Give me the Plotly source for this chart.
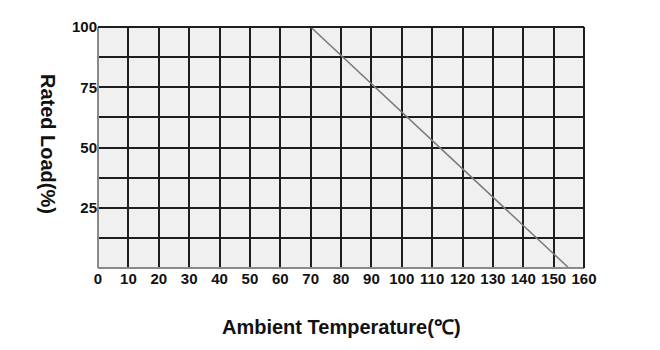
import plotly.graph_objects as go

temp_c = [70, 155]
rated_load_pct = [100, 0]
x_ticks = list(range(0, 161, 10))
y_ticks = [25, 50, 75, 100]

fig = go.Figure()
fig.add_trace(go.Scatter(x=temp_c, y=rated_load_pct, mode="lines",
                         line=dict(color="#7a7a7a", width=1.5),
                         showlegend=False, cliponaxis=True))

fnt = "Liberation Sans, Arial, sans-serif"
tickfont = dict(size=15, color="#111", family=fnt, weight="bold")
fig.update_layout(
    width=660, height=350,
    margin=dict(l=98, r=76, t=27, b=82),
    paper_bgcolor="white", plot_bgcolor="#f0f0f0",
    font=dict(family=fnt, color="#111", size=15),
    xaxis=dict(range=[0, 160], tickvals=x_ticks, ticktext=[str(v) for v in x_ticks],
               showgrid=True, gridcolor="#1e1e1e", gridwidth=2,
               zeroline=False, showline=False, ticks="", ticklen=0,
               tickfont=tickfont),
    yaxis=dict(range=[0, 100], tickvals=y_ticks, ticktext=[str(v) for v in y_ticks],
               showgrid=True, gridcolor="#1e1e1e", gridwidth=2,
               minor=dict(tick0=0, dtick=12.5, showgrid=True, gridcolor="#1e1e1e", gridwidth=2),
               zeroline=False, showline=False, ticks="", ticklen=0,
               tickfont=tickfont),
    shapes=[
        dict(type="line", xref="paper", yref="paper", x0=0, x1=0, y0=0, y1=1,
             line=dict(color="#8a8a8a", width=2)),
        dict(type="line", xref="paper", yref="paper", x0=0, x1=1, y0=0, y1=0,
             line=dict(color="#8a8a8a", width=2)),
        dict(type="line", xref="paper", yref="paper", x0=0, x1=1, y0=1, y1=1,
             line=dict(color="#1e1e1e", width=2)),
        dict(type="line", xref="paper", yref="paper", x0=1, x1=1, y0=0, y1=1,
             line=dict(color="#1e1e1e", width=2)),
    ],
    annotations=[
        dict(text="Ambient Temperature(℃)", xref="paper", yref="paper",
             x=0.5, y=-0.245, xanchor="center", yanchor="middle", showarrow=False,
             font=dict(size=20, color="#111", family=fnt, weight="bold")),
        dict(text="Rated Load(%)", xref="paper", yref="paper",
             x=-0.103, y=0.515, xanchor="center", yanchor="middle", showarrow=False,
             textangle=90, font=dict(size=20, color="#111", family=fnt, weight="bold")),
    ],
)
fig.write_html("out.html")
